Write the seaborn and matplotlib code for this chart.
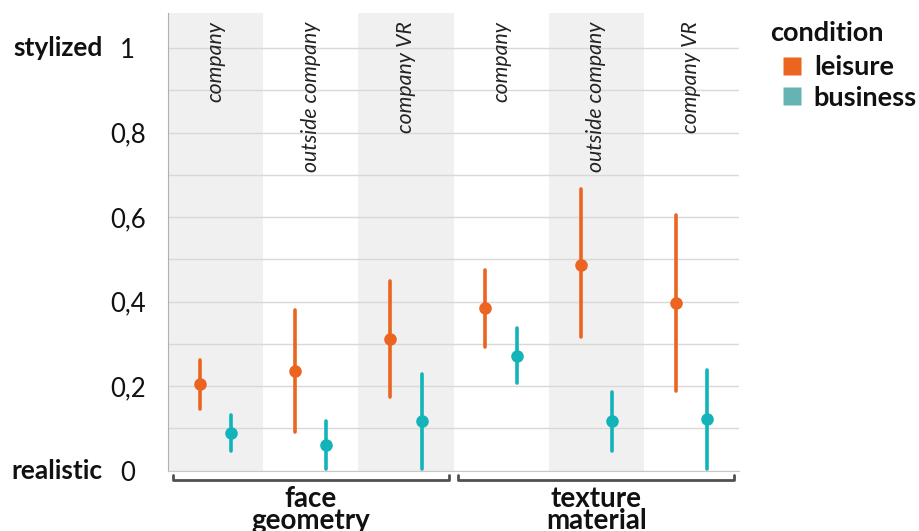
import pandas as pd
import numpy as np
import matplotlib.pyplot as plt
import seaborn as sns
from matplotlib.lines import Line2D

# data: point estimate with lower / upper interval
groups = ["face\ngeometry", "texture\nmaterial"]
places = ["company", "outside company", "company VR"]
conditions = ["leisure", "business"]

leisure_mid = [0.205, 0.236, 0.311, 0.384, 0.487, 0.397]
leisure_lo = [0.147, 0.092, 0.174, 0.292, 0.317, 0.189]
leisure_hi = [0.261, 0.381, 0.450, 0.476, 0.667, 0.604]

business_mid = [0.090, 0.061, 0.117, 0.272, 0.117, 0.122]
business_lo = [0.047, 0.004, 0.004, 0.207, 0.047, 0.004]
business_hi = [0.132, 0.118, 0.228, 0.337, 0.186, 0.239]

yticks = [0, 0.2, 0.4, 0.6, 0.8, 1]
yticklabels = ["0", "0,2", "0,4", "0,6", "0,8", "1"]

point_colors = {"leisure": "#EB6420", "business": "#12B3B9"}
legend_colors = {"leisure": "#EB6420", "business": "#66B3B3"}

# long table: three rows per cell (lo, mid, hi) -> median + 100% interval
cells = [f"{g}|{p}" for g in groups for p in places]
rows = []
for cond, lo, mid, hi in [("leisure", leisure_lo, leisure_mid, leisure_hi),
                          ("business", business_lo, business_mid, business_hi)]:
    for i, cell in enumerate(cells):
        for v in (lo[i], mid[i], hi[i]):
            rows.append({"cell": cell, "condition": cond, "value": v})
df = pd.DataFrame(rows)

sns.set_style("white")
plt.rcParams["font.family"] = ["Lato", "DejaVu Sans"]

fig = plt.figure(figsize=(9.19, 5.31), dpi=100)
ax = fig.add_axes([168 / 919, 1 - 470.7 / 531, 571 / 919, 457.7 / 531])

for i in range(len(cells)):
    if i % 2 == 0:
        ax.axvspan(i - 0.5, i + 0.5, color="#F0F0F0", lw=0, zorder=0)

sns.pointplot(data=df, x="cell", y="value", hue="condition", order=cells,
              hue_order=conditions, palette=point_colors,
              estimator="median", errorbar=("pi", 100), dodge=0.33,
              linestyle="none", markersize=7, err_kws={"linewidth": 2.6},
              legend=False, ax=ax)

ax.set_xlim(-0.5, len(cells) - 0.5)
ax.set_ylim(0, 1.083)
ax.set_yticks(np.arange(0, 1.01, 0.1), minor=True)
ax.set_yticks(yticks)
ax.set_yticklabels(yticklabels)
ax.grid(axis="y", which="both", color="#D8D8D8", lw=1)
ax.set_axisbelow(True)
ax.tick_params(axis="y", length=0, pad=29, labelsize=18.5)
ax.tick_params(axis="y", which="minor", length=0)
for lab in ax.get_yticklabels():
    lab.set_ha("center")
    lab.set_color("#111111")
ax.set_xticks([])
ax.set_xlabel("")
ax.set_ylabel("")
for s in ["top", "right"]:
    ax.spines[s].set_visible(False)
ax.spines["left"].set_color("#B0B0B0")
ax.spines["bottom"].set_color("#C8C8C8")

# place labels at top of each column
for i, cell in enumerate(cells):
    ax.text(i, 1.063, cell.split("|")[1], rotation=90, ha="center", va="top",
            fontsize=15.3, style="italic", color="#222222")

ylab = ax.get_yaxis_transform()
ax.text(-0.114, 1, "stylized", transform=ylab, ha="right", va="center",
        fontsize=19, fontweight="bold", color="#111111")
ax.text(-0.114, 0, "realistic", transform=ylab, ha="right", va="center",
        fontsize=19, fontweight="bold", color="#111111")

# group brackets under the axis
for k, g in enumerate(groups):
    x0, x1 = k * 3 - 0.45, k * 3 + 2.45
    ax.plot([x0, x0, x1, x1], [-0.011, -0.023, -0.023, -0.011],
            color="#505050", lw=2, clip_on=False)
    ax.text(k * 3 + 1, -0.036, g, ha="center", va="top", fontsize=20,
            fontweight="bold", linespacing=0.8, color="#111111")

# legend: title as its own text, entries indented below it
fig.text(770 / 919, 1 - 33 / 531, "condition", ha="left", va="center",
         fontsize=19.5, fontweight="bold", color="#111111")
handles = [Line2D([], [], marker="s", linestyle="none", markersize=13,
                  markerfacecolor=legend_colors[c], markeredgecolor="none")
           for c in conditions]
leg = fig.legend(handles, conditions, loc="upper left",
                 bbox_to_anchor=(780 / 919, 1 - 55 / 531), frameon=False,
                 fontsize=19.5, handletextpad=0.35, labelspacing=0.25,
                 handlelength=0.9, borderaxespad=0, borderpad=0)
for t in leg.get_texts():
    t.set_fontweight("bold")
    t.set_color("#111111")

fig.savefig("out.png", dpi=100)
